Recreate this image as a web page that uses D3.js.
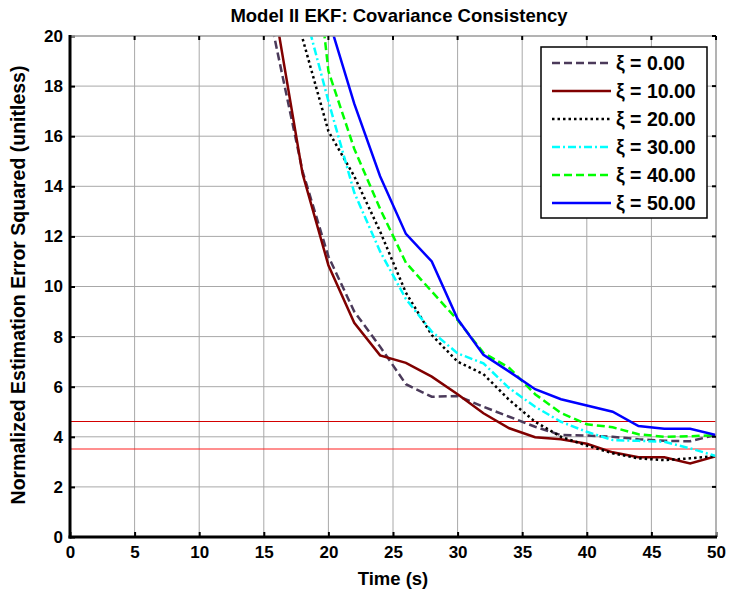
<!DOCTYPE html>
<html>
<head>
<meta charset="utf-8">
<script src="https://cdn.jsdelivr.net/npm/d3@7"></script>
<style>
body { margin: 0; background: #fff; }
text { font-family: "Liberation Sans", Arial, sans-serif; font-weight: bold; fill: #000; }
</style>
</head>
<body>
<div id="chart-div"></div>
<script>
// values, one point every 2 s
const times = [14, 16, 18, 20, 22, 24, 26, 28, 30, 32, 34, 36, 38, 40, 42, 44, 46, 48, 50];
const xi0  = [24.5, 19.5, 14.6, 11.2, 9.0, 7.6, 6.1, 5.6, 5.63, 5.2, 4.8, 4.4, 4.07, 4.05, 4.0, 3.9, 3.84, 3.82, 4.08];
const xi10 = [26.5, 20.6, 14.5, 10.85, 8.55, 7.25, 6.95, 6.4, 5.7, 4.94, 4.34, 3.98, 3.9, 3.72, 3.38, 3.18, 3.18, 2.94, 3.23];
const xi20 = [32, 26, 19.9, 16.2, 14.4, 12.2, 9.75, 8.06, 7.0, 6.5, 5.47, 4.6, 4.0, 3.65, 3.34, 3.14, 3.07, 3.14, 3.23];
const xi30 = [34, 27, 21.3, 17.4, 13.75, 11.4, 9.5, 8.2, 7.33, 6.93, 5.94, 5.2, 4.6, 4.2, 3.87, 3.84, 3.8, 3.54, 3.23];
const xi40 = [44, 36, 28, 18.6, 15.5, 13.1, 10.95, 9.8, 8.66, 7.35, 6.75, 5.7, 4.95, 4.5, 4.38, 4.1, 4.0, 4.02, 4.07];
const xi50 = [40, 33, 26, 20.7, 17.3, 14.4, 12.1, 11.0, 8.7, 7.27, 6.6, 5.9, 5.5, 5.25, 5.0, 4.43, 4.32, 4.32, 4.07];
const labels = ["\u03be = 0.00", "\u03be = 10.00", "\u03be = 20.00", "\u03be = 30.00", "\u03be = 40.00", "\u03be = 50.00"];
const xTicks = [0, 5, 10, 15, 20, 25, 30, 35, 40, 45, 50];
const yTicks = [0, 2, 4, 6, 8, 10, 12, 14, 16, 18, 20];
const bounds = [3.5, 4.63];

const width = 729;
const height = 596;
const plotL = 70, plotT = 36, plotR = 716, plotB = 537;

const styles = [
  { color: "#4b3a5a", dash: "8,4" },
  { color: "#800000", dash: null },
  { color: "#000000", dash: "2.5,3" },
  { color: "#00ffff", dash: "8,3,2,3" },
  { color: "#00ff00", dash: "8,4" },
  { color: "#0000ff", dash: null }
];
const series = [xi0, xi10, xi20, xi30, xi40, xi50];

const xScale = d3.scaleLinear().domain([0, 50]).range([plotL, plotR]);
const yScale = d3.scaleLinear().domain([0, 20]).range([plotB, plotT]);

const svg = d3.select("#chart-div")
              .append("svg")
              .attr("width", width)
              .attr("height", height);

svg.append("clipPath").attr("id", "clip")
   .append("rect")
   .attr("x", plotL).attr("y", plotT)
   .attr("width", plotR - plotL).attr("height", plotB - plotT);

// grid
svg.append("g").selectAll("line").data(xTicks.slice(1)).enter().append("line")
   .attr("x1", d => xScale(d)).attr("x2", d => xScale(d))
   .attr("y1", plotT).attr("y2", plotB)
   .attr("stroke", "#a8a8a8").attr("stroke-width", 1);
svg.append("g").selectAll("line").data(yTicks.slice(1)).enter().append("line")
   .attr("x1", plotL).attr("x2", plotR)
   .attr("y1", d => yScale(d)).attr("y2", d => yScale(d))
   .attr("stroke", "#a8a8a8").attr("stroke-width", 1);

// consistency bounds (lower one sits between pixel rows, so it looks soft pink)
svg.append("g").selectAll("line").data(bounds).enter().append("line")
   .attr("x1", plotL).attr("x2", plotR)
   .attr("y1", (d, i) => Math.round(yScale(d)) + (i ? 0.5 : 0))
   .attr("y2", (d, i) => Math.round(yScale(d)) + (i ? 0.5 : 0))
   .attr("stroke", (d, i) => i ? "#d40000" : "#ff2020").attr("stroke-width", 1.2);

// curves
const line = d3.line().x((d, i) => xScale(times[i])).y(d => yScale(d));
svg.append("g").attr("clip-path", "url(#clip)")
   .selectAll("path").data(series).enter().append("path")
   .attr("d", d => line(d))
   .attr("fill", "none")
   .attr("stroke", (d, i) => styles[i].color)
   .attr("stroke-width", 2.5)
   .attr("stroke-dasharray", (d, i) => styles[i].dash);

// axes: thick left/bottom, thin top/right
const yAxis = d3.axisLeft(yScale).tickValues(yTicks).tickSize(-5).tickPadding(7);
const xAxis = d3.axisBottom(xScale).tickValues(xTicks).tickSize(-5).tickPadding(9);

const gy = svg.append("g").attr("transform", `translate(${plotL},0)`).call(yAxis);
const gx = svg.append("g").attr("transform", `translate(0,${plotB})`).call(xAxis);
[gy, gx].forEach(g => {
  g.select(".domain").remove();
  g.selectAll(".tick line").attr("stroke", "#000").attr("stroke-width", 2);
  g.selectAll("text").attr("font-size", 17).style("font-weight", "bold");
});

svg.append("line").attr("x1", plotR).attr("x2", plotR).attr("y1", plotT).attr("y2", plotB)
   .attr("stroke", "#a8a8a8").attr("stroke-width", 1.5);
svg.append("line").attr("x1", plotL).attr("x2", plotR).attr("y1", plotT).attr("y2", plotT)
   .attr("stroke", "#a8a8a8").attr("stroke-width", 1.5);
svg.append("g").selectAll("line").data(yTicks).enter().append("line")
   .attr("x1", plotR - 4).attr("x2", plotR)
   .attr("y1", d => yScale(d)).attr("y2", d => yScale(d))
   .attr("stroke", "#000").attr("stroke-width", 2);
svg.append("g").selectAll("line").data(xTicks).enter().append("line")
   .attr("x1", d => xScale(d)).attr("x2", d => xScale(d))
   .attr("y1", plotT).attr("y2", plotT + 4)
   .attr("stroke", "#000").attr("stroke-width", 2);
svg.append("line").attr("x1", plotL).attr("x2", plotL).attr("y1", plotT - 1).attr("y2", plotB + 1.5)
   .attr("stroke", "#000").attr("stroke-width", 3);
svg.append("line").attr("x1", plotL - 1.5).attr("x2", plotR + 1).attr("y1", plotB).attr("y2", plotB)
   .attr("stroke", "#000").attr("stroke-width", 3);

// titles
svg.append("text").attr("x", 399).attr("y", 22).attr("text-anchor", "middle")
   .attr("font-size", 18.5).text("Model II EKF: Covariance Consistency");
svg.append("text").attr("x", 393).attr("y", 585).attr("text-anchor", "middle")
   .attr("font-size", 18.5).text("Time (s)");
svg.append("text").attr("transform", "translate(25,285) rotate(-90)").attr("text-anchor", "middle")
   .attr("font-size", 19.5).text("Normalized Estimation Error Squared (unitless)");

// legend
const legend = svg.append("g");
legend.append("rect").attr("x", 541).attr("y", 47).attr("width", 166).attr("height", 171)
      .attr("fill", "#fff").attr("stroke", "#000").attr("stroke-width", 1.5);
const rows = legend.selectAll("g.row").data(labels).enter().append("g")
      .attr("class", "row")
      .attr("transform", (d, i) => `translate(0,${63 + i * 28})`);
rows.append("line").attr("x1", 552).attr("x2", 611).attr("y1", 0).attr("y2", 0)
    .attr("stroke", (d, i) => styles[i].color).attr("stroke-width", 2.5)
    .attr("stroke-dasharray", (d, i) => styles[i].dash);
rows.append("text").attr("x", 616).attr("y", 7).attr("font-size", 19.5).text(d => d);
</script>
</body>
</html>
